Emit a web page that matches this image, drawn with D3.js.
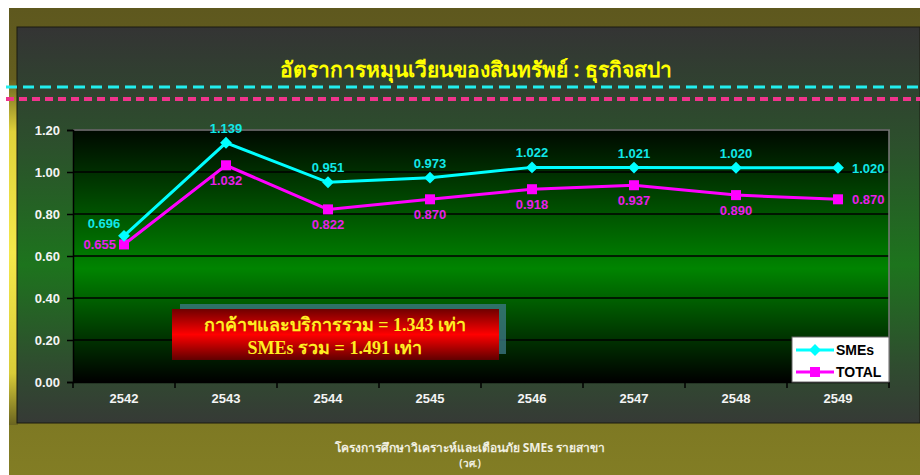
<!DOCTYPE html>
<html>
<head>
<meta charset="utf-8">
<script src="https://cdn.jsdelivr.net/npm/d3@7"></script>
<style>
  html, body { margin: 0; padding: 0; background: #fff; }
  svg { display: block; }
  .tick text { font-family: Arial, "Liberation Sans", sans-serif; font-weight: bold; }
</style>
</head>
<body>
<script>
const years = ["2542", "2543", "2544", "2545", "2546", "2547", "2548", "2549"];
const smes = [0.696, 1.139, 0.951, 0.973, 1.022, 1.021, 1.020, 1.020];
const total = [0.655, 1.032, 0.822, 0.870, 0.918, 0.937, 0.890, 0.870];
const yTicks = [0, 0.2, 0.4, 0.6, 0.8, 1.0, 1.2];
const seriesNames = ["SMEs", "TOTAL"];
const titleText = "อัตราการหมุนเวียนของสินทรัพย์ : ธุรกิจสปา";
const noteLines = ["กาค้าฯและบริการรวม = 1.343 เท่า", "SMEs รวม = 1.491 เท่า"];

const width = 920, height = 475;
const plot = { left: 73, right: 889, top: 130, bottom: 382 };

const svg = d3.select("body").append("svg")
  .attr("width", width).attr("height", height);
const defs = svg.append("defs");

function grad(id, stops) {
  const g = defs.append("linearGradient").attr("id", id)
    .attr("x1", 0).attr("y1", 0).attr("x2", 0).attr("y2", 1);
  stops.forEach(s => g.append("stop").attr("offset", s[0]).attr("stop-color", s[1]));
}
grad("olive", [[0, "#5e581e"], [1, "#827d24"]]);
grad("panel", [[0, "#343434"], [0.3, "#2c502c"], [0.6, "#1d741d"], [0.85, "#2f4d2f"], [1, "#363a36"]]);
grad("plotBg", [[0, "#000900"], [0.55, "#008400"], [1, "#000000"]]);
grad("stripe", [[0, "#6a6420"], [0.15, "#e0d23a"], [0.5, "#f4e84a"], [0.85, "#d8cc38"], [1, "#6a6420"]]);
grad("redBox", [[0, "#700000"], [0.5, "#ff0000"], [1, "#600000"]]);

// frame
svg.append("rect").attr("x", 9).attr("y", 8).attr("width", width - 9).attr("height", height - 8)
  .attr("fill", "url(#olive)");
svg.append("rect").attr("x", 9).attr("y", 80).attr("width", 9).attr("height", 345)
  .attr("fill", "url(#stripe)");
svg.append("rect").attr("x", 17).attr("y", 27).attr("width", width - 17).attr("height", 396)
  .attr("fill", "url(#panel)").attr("stroke", "#1a1a10").attr("stroke-width", 1);

// title + dashed rules
svg.append("text").attr("x", 476).attr("y", 77)
  .attr("text-anchor", "middle").attr("fill", "#ffff00")
  .attr("font-family", "'Noto Sans', 'DejaVu Sans', sans-serif")
  .attr("font-size", 21).attr("font-weight", "bold")
  .text(titleText);
svg.append("line").attr("x1", 6).attr("x2", width).attr("y1", 87).attr("y2", 87)
  .attr("stroke", "#22eeee").attr("stroke-width", 3).attr("stroke-dasharray", "11,6");
svg.append("line").attr("x1", 6).attr("x2", width).attr("y1", 99).attr("y2", 99)
  .attr("stroke", "#f0348c").attr("stroke-width", 4).attr("stroke-dasharray", "8,5");

// scales
const x = d3.scaleBand().domain(years).range([plot.left, plot.right]);
const y = d3.scaleLinear().domain([0, 1.2]).range([plot.bottom, plot.top]);
const cx = d => x(d) + x.bandwidth() / 2;

// plot area
svg.append("rect").attr("x", plot.left).attr("y", plot.top)
  .attr("width", plot.right - plot.left).attr("height", plot.bottom - plot.top)
  .attr("fill", "url(#plotBg)");
svg.append("g").selectAll("line").data(yTicks.slice(1)).join("line")
  .attr("x1", plot.left).attr("x2", plot.right)
  .attr("y1", d => y(d)).attr("y2", d => y(d))
  .attr("stroke", "#000").attr("stroke-width", 1.5);
svg.append("path")
  .attr("d", `M${plot.left},${plot.top}H${plot.right}V${plot.bottom}`)
  .attr("fill", "none").attr("stroke", "#7a7a7a").attr("stroke-width", 1.5);

// axes
const yAxis = svg.append("g").attr("transform", `translate(${plot.left},0)`)
  .call(d3.axisLeft(y).tickValues(yTicks).tickFormat(d3.format(".2f")).tickSize(6).tickPadding(7));
yAxis.select(".domain").attr("stroke", "#000").attr("stroke-width", 1.5);
yAxis.selectAll(".tick line").attr("stroke", "#000").attr("stroke-width", 1.5);
yAxis.selectAll(".tick text").attr("fill", "#f4f4f4").attr("font-size", 13);

const xAxis = svg.append("g").attr("transform", `translate(0,${plot.bottom})`)
  .call(d3.axisBottom(x).tickSize(0).tickPadding(12));
xAxis.select(".domain").attr("stroke", "#000").attr("stroke-width", 1.5);
xAxis.selectAll(".tick text").attr("fill", "#f4f4f4").attr("font-size", 13);
xAxis.append("g").selectAll("line").data(years.concat(["end"])).join("line")
  .attr("x1", (d, i) => plot.left + i * x.bandwidth())
  .attr("x2", (d, i) => plot.left + i * x.bandwidth())
  .attr("y1", 0).attr("y2", 6).attr("stroke", "#000").attr("stroke-width", 1.5);

// series
const line = d3.line().x((d, i) => cx(years[i])).y(d => y(d));
svg.append("path").datum(total).attr("d", line)
  .attr("fill", "none").attr("stroke", "#ff00ff").attr("stroke-width", 3);
svg.append("path").datum(smes).attr("d", line)
  .attr("fill", "none").attr("stroke", "#00ffff").attr("stroke-width", 3);

svg.append("g").selectAll("rect").data(total).join("rect")
  .attr("x", (d, i) => cx(years[i]) - 5).attr("y", d => y(d) - 5)
  .attr("width", 10).attr("height", 10).attr("fill", "#ff00ff");
const diamond = d3.symbol().type(d3.symbolDiamond2).size(90);
svg.append("g").selectAll("path").data(smes).join("path")
  .attr("transform", (d, i) => `translate(${cx(years[i])},${y(d)})`)
  .attr("d", diamond).attr("fill", "#00ffff");

// data labels
const labelFont = "Arial, 'Liberation Sans', sans-serif";
const last = years.length - 1;
svg.append("g").selectAll("text").data(smes).join("text")
  .attr("x", (d, i) => i === 0 ? cx(years[i]) - 20 : i === last ? cx(years[i]) + 14 : cx(years[i]))
  .attr("y", (d, i) => i === 0 ? y(d) - 8 : i === last ? y(d) + 5 : y(d) - 10)
  .attr("text-anchor", (d, i) => i === last ? "start" : "middle")
  .attr("fill", "#11e8e8").attr("font-family", labelFont)
  .attr("font-size", 13).attr("font-weight", "bold")
  .text(d => d.toFixed(3));
svg.append("g").selectAll("text").data(total).join("text")
  .attr("x", (d, i) => i === 0 ? cx(years[i]) - 8 : i === last ? cx(years[i]) + 14 : cx(years[i]))
  .attr("y", (d, i) => (i === 0 || i === last) ? y(d) + 5 : y(d) + 20)
  .attr("text-anchor", (d, i) => i === 0 ? "end" : i === last ? "start" : "middle")
  .attr("fill", "#e81ee8").attr("font-family", labelFont)
  .attr("font-size", 13).attr("font-weight", "bold")
  .text(d => d.toFixed(3));

// summary box
svg.append("rect").attr("x", 180).attr("y", 304).attr("width", 326).attr("height", 50)
  .attr("fill", "#3d7a8a").attr("opacity", 0.75);
svg.append("rect").attr("x", 172).attr("y", 309).attr("width", 327).attr("height", 51)
  .attr("fill", "url(#redBox)");
svg.append("g").selectAll("text").data(noteLines).join("text")
  .attr("x", 335).attr("y", (d, i) => 331 + i * 23)
  .attr("text-anchor", "middle").attr("fill", "#ffee22")
  .attr("font-family", "'Liberation Serif', 'Times New Roman', serif")
  .attr("font-size", 18).attr("font-weight", "bold")
  .text(d => d);

// legend
const legend = svg.append("g").attr("transform", "translate(792,337)");
legend.append("rect").attr("width", 97).attr("height", 45)
  .attr("fill", "#fff").attr("stroke", "#666").attr("stroke-width", 1);
const colors = ["#00ffff", "#ff00ff"];
seriesNames.forEach((name, i) => {
  const g = legend.append("g").attr("transform", `translate(0,${13 + i * 22})`);
  g.append("line").attr("x1", 4).attr("x2", 42).attr("stroke", colors[i]).attr("stroke-width", 3);
  if (i === 0) {
    g.append("path").attr("transform", "translate(23,0)").attr("d", diamond).attr("fill", colors[i]);
  } else {
    g.append("rect").attr("x", 18).attr("y", -5).attr("width", 10).attr("height", 10).attr("fill", colors[i]);
  }
  g.append("text").attr("x", 44).attr("y", 5).attr("fill", "#000")
    .attr("font-family", labelFont).attr("font-size", 14).attr("font-weight", "bold")
    .text(name);
});

// footer
svg.append("text").attr("x", 470).attr("y", 452).attr("text-anchor", "middle")
  .attr("fill", "#f0efe0").attr("font-family", "'Noto Sans', 'DejaVu Sans', sans-serif")
  .attr("font-size", 12).attr("font-weight", "bold")
  .text("โครงการศึกษาวิเคราะห์และเตือนภัย SMEs รายสาขา");
svg.append("text").attr("x", 470).attr("y", 467).attr("text-anchor", "middle")
  .attr("fill", "#f0efe0").attr("font-family", "'Noto Sans', 'DejaVu Sans', sans-serif")
  .attr("font-size", 10).attr("font-weight", "bold")
  .text("(วศ.)");
</script>
</body>
</html>
